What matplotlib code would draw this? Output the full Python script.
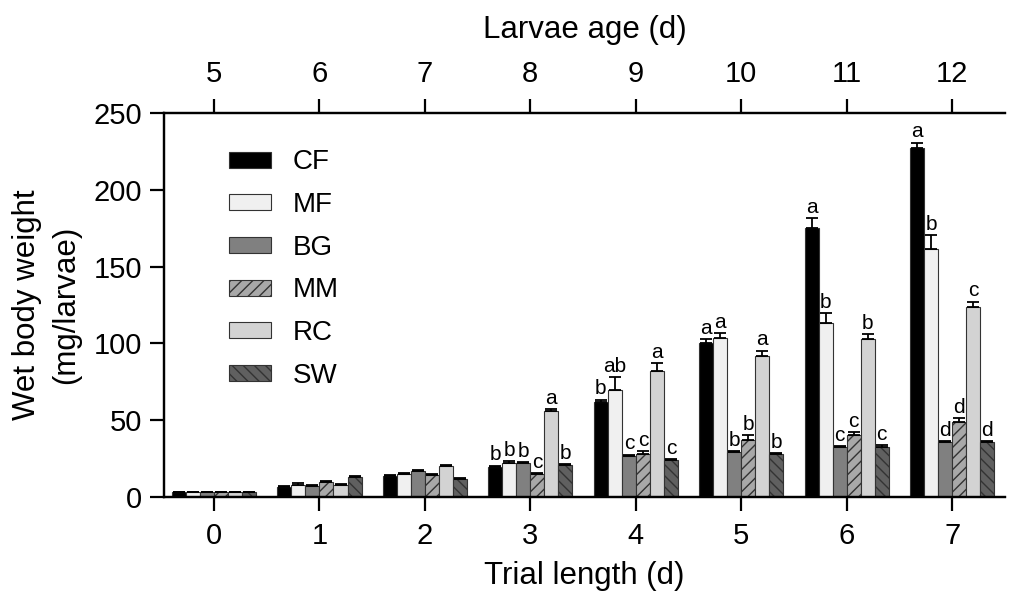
import numpy as np
import matplotlib.pyplot as plt

plt.rcParams.update({
    "font.family": ["Liberation Sans", "DejaVu Sans"],
    "hatch.linewidth": 1.0,
    "axes.linewidth": 1.6,
})

trial_days = [0, 1, 2, 3, 4, 5, 6, 7]
larvae_age = [5, 6, 7, 8, 9, 10, 11, 12]
diets = ["CF", "MF", "BG", "MM", "RC", "SW"]

means = {
    "CF": [3.0, 6.3, 13.7, 19.5, 62.0, 100.3, 175.0, 227.0],
    "MF": [3.0, 7.8, 15.0, 22.3, 70.0, 103.3, 113.5, 161.2],
    "BG": [3.0, 7.4, 17.1, 21.9, 26.9, 29.1, 32.5, 35.6],
    "MM": [3.0, 9.6, 14.5, 14.8, 27.8, 37.1, 40.4, 48.6],
    "RC": [3.0, 7.8, 20.0, 56.0, 82.0, 92.0, 102.9, 123.5],
    "SW": [3.0, 13.0, 11.7, 20.8, 24.0, 28.0, 32.8, 35.6],
}

errors = {
    "CF": [0.3, 0.6, 0.8, 1.0, 1.5, 2.6, 6.5, 3.7],
    "MF": [0.3, 1.2, 0.8, 1.2, 8.0, 3.5, 6.0, 9.3],
    "BG": [0.2, 0.5, 0.7, 0.8, 0.8, 0.8, 0.8, 0.8],
    "MM": [0.2, 0.6, 0.7, 1.0, 2.0, 3.3, 1.7, 2.6],
    "RC": [0.3, 0.6, 1.0, 1.0, 5.0, 3.3, 3.3, 3.7],
    "SW": [0.2, 0.5, 0.5, 0.8, 0.8, 0.8, 0.8, 0.8],
}

letters = {
    "CF": ["", "", "", "b", "b", "a", "a", "a"],
    "MF": ["", "", "", "b", "ab", "a", "b", "b"],
    "BG": ["", "", "", "b", "c", "b", "c", "d"],
    "MM": ["", "", "", "c", "c", "b", "c", "d"],
    "RC": ["", "", "", "a", "a", "a", "b", "c"],
    "SW": ["", "", "", "b", "c", "b", "c", "d"],
}

styles = {
    "CF": dict(color="#000000", hatch=None),
    "MF": dict(color="#f0f0f0", hatch=None),
    "BG": dict(color="#808080", hatch=None),
    "MM": dict(color="#a8a8a8", hatch="///"),
    "RC": dict(color="#d3d3d3", hatch=None),
    "SW": dict(color="#606060", hatch="\\\\\\"),
}

fig = plt.figure(figsize=(10.12, 5.96), dpi=100)
ax = fig.add_axes([0.1625, 0.166, 0.8305, 0.6444])

x = np.arange(len(trial_days))
width = 0.133

for k, diet in enumerate(diets):
    pos = x + (k - 2.5) * width
    st = styles[diet]
    ax.bar(pos, means[diet], width, color=st["color"], hatch=st["hatch"],
           edgecolor="#333333", linewidth=0.8, label=diet, zorder=2)
    ax.errorbar(pos, means[diet], yerr=[np.zeros(len(x)), errors[diet]],
                fmt="none", ecolor="black", elinewidth=1.3, capsize=4,
                capthick=1.3, zorder=3)
    for p, m, e, lab in zip(pos, means[diet], errors[diet], letters[diet]):
        if lab:
            ax.text(p, m + e + 0.8, lab, ha="center", va="bottom", fontsize=15)

ax.set_xlim(-0.47, 7.5)
ax.set_ylim(0, 250)
ax.set_xticks(x)
ax.set_xticklabels(trial_days)
ax.set_yticks([0, 50, 100, 150, 200, 250])
ax.tick_params(axis="both", labelsize=21, width=1.6, length=10, pad=6)
ax.tick_params(axis="x", pad=8)
ax.set_xlabel("Trial length (d)", fontsize=22.5, labelpad=8)
ax.set_ylabel("Wet body weight\n(mg/larvae)", fontsize=22.5, labelpad=9,
              linespacing=1.4)
ax.spines["right"].set_visible(False)

ax2 = ax.twiny()
ax2.set_xlim(ax.get_xlim())
ax2.set_xticks(x)
ax2.set_xticklabels(larvae_age)
ax2.tick_params(axis="x", labelsize=21, width=1.6, length=10, pad=8)
ax2.set_xlabel("Larvae age (d)", fontsize=22.5, labelpad=16)
ax2.spines["right"].set_visible(False)

ax.legend(loc="upper left", bbox_to_anchor=(0.0767, 0.905), frameon=False,
          fontsize=20, handlelength=1.5, handleheight=0.5,
          handletextpad=0.8, labelspacing=0.6, borderpad=0, borderaxespad=0)

fig.savefig("out.png", dpi=100)
